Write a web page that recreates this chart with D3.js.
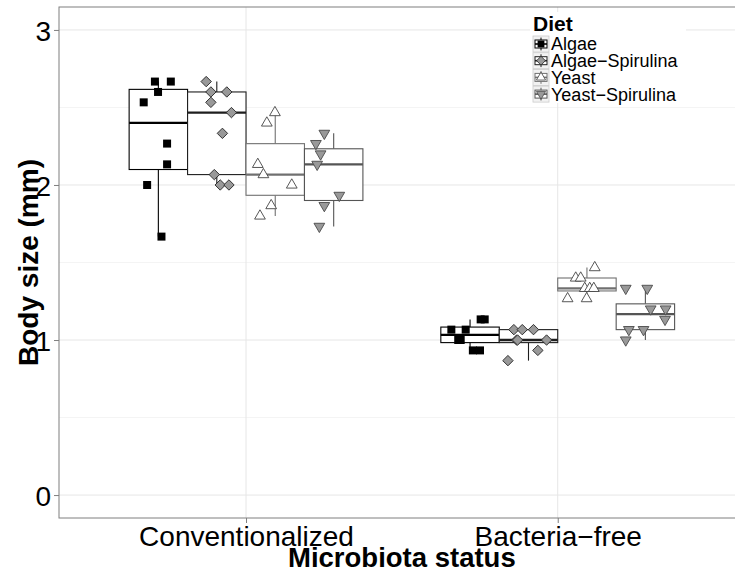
<!DOCTYPE html>
<html>
<head>
<meta charset="utf-8">
<script src="https://cdn.jsdelivr.net/npm/d3@7"></script>
<style>
  html, body { margin: 0; padding: 0; background: #ffffff; overflow: hidden; }
  svg { display: block; font-family: "Liberation Sans", Arial, Helvetica, sans-serif; }
</style>
</head>
<body>
<svg id="chart" width="735" height="573"></svg>
<script>
// Microbiota status on the x axis, diets dodged within each status
const statuses = ["Conventionalized", "Bacteria\u2212free"];
const diets = ["Algae", "Algae\u2212Spirulina", "Yeast", "Yeast\u2212Spirulina"];

// Body size measurements (mm), one array per status x diet
const convAlgae      = [2.667, 2.667, 2.600, 2.533, 2.267, 2.133, 2.000, 1.667];
const convAlgaeSpir  = [2.667, 2.600, 2.600, 2.533, 2.467, 2.333, 2.067, 2.000, 2.000];
const convYeast      = [2.467, 2.400, 2.133, 2.067, 2.000, 1.867, 1.800];
const convYeastSpir  = [2.333, 2.267, 2.200, 2.133, 1.933, 1.867, 1.733];
const freeAlgae      = [1.133, 1.133, 1.067, 1.067, 1.000, 1.000, 0.933, 0.933];
const freeAlgaeSpir  = [1.067, 1.067, 1.067, 1.000, 1.000, 1.000, 0.933, 0.867];
const freeYeast      = [1.467, 1.400, 1.400, 1.333, 1.333, 1.333, 1.267, 1.267];
const freeYeastSpir  = [1.333, 1.333, 1.200, 1.200, 1.133, 1.067, 1.067, 1.000];

// Horizontal jitter of each measurement (x-axis units, relative to its box)
const convAlgaeJit     = [-0.011, 0.040, -0.001, -0.047, 0.028, 0.028, -0.036, 0.010];
const convAlgaeSpirJit = [-0.034, -0.019, 0.032, -0.019, 0.047, 0.018, -0.008, 0.011, 0.039];
const convYeastJit     = [-0.001, -0.027, -0.056, -0.038, 0.053, -0.013, -0.049];
const convYeastSpirJit = [-0.030, -0.057, -0.042, -0.053, 0.018, -0.030, -0.046];
const freeAlgaeJit     = [0.034, 0.047, -0.060, -0.014, -0.038, -0.030, 0.009, 0.032];
const freeAlgaeSpirJit = [-0.047, -0.020, 0.016, -0.038, 0.058, -0.035, 0.030, -0.066];
const freeYeastJit     = [0.025, -0.036, -0.020, -0.007, 0.009, 0.022, -0.062, -0.001];
const freeYeastSpirJit = [-0.063, 0.006, 0.017, 0.065, 0.063, -0.053, -0.006, -0.063];

const yTicks = [0, 1, 2, 3];
const yMinor = [0.5, 1.5, 2.5];

const groups = [
  { status: 0, diet: 0, values: convAlgae,     jitter: convAlgaeJit },
  { status: 0, diet: 1, values: convAlgaeSpir, jitter: convAlgaeSpirJit },
  { status: 0, diet: 2, values: convYeast,     jitter: convYeastJit },
  { status: 0, diet: 3, values: convYeastSpir, jitter: convYeastSpirJit },
  { status: 1, diet: 0, values: freeAlgae,     jitter: freeAlgaeJit },
  { status: 1, diet: 1, values: freeAlgaeSpir, jitter: freeAlgaeSpirJit },
  { status: 1, diet: 2, values: freeYeast,     jitter: freeYeastJit },
  { status: 1, diet: 3, values: freeYeastSpir, jitter: freeYeastSpirJit }
];

// Styling per diet
const boxColour   = ["#000000", "#1e1e1e", "#707070", "#555555"];
const pointFill   = ["#000000", "#999999", "#ffffff", "#999999"];
const pointStroke = ["#000000", "#222222", "#444444", "#4a4a4a"];

const svg = d3.select("#chart");
const panel = { left: 59, top: 7, bottom: 518 };

// Discrete positions 1 and 2, expanded by 0.6 on each side
const x = d3.scaleLinear().domain([0.4, 2.6]).range([panel.left, panel.left + 2.2 * 311.7]);
const y = d3.scaleLinear().domain([-0.148, 3.148]).range([panel.bottom, panel.top]);
const panelRight = x(2.6);

const dodgeWidth = 0.75;
const boxW = dodgeWidth / diets.length;
const boxCenter = (s, d) => (s + 1) - dodgeWidth / 2 + boxW * (d + 0.5);

// Panel background and grid
svg.append("rect").attr("x", panel.left).attr("y", panel.top)
  .attr("width", panelRight - panel.left).attr("height", panel.bottom - panel.top)
  .attr("fill", "#ffffff");

const grid = svg.append("g");
grid.selectAll("line.minor").data(yMinor).join("line")
  .attr("x1", panel.left).attr("x2", panelRight)
  .attr("y1", d => y(d)).attr("y2", d => y(d))
  .attr("stroke", "#f4f4f4").attr("stroke-width", 1);
grid.selectAll("line.majory").data(yTicks).join("line")
  .attr("x1", panel.left).attr("x2", panelRight)
  .attr("y1", d => y(d)).attr("y2", d => y(d))
  .attr("stroke", "#e6e6e6").attr("stroke-width", 1);
grid.selectAll("line.majorx").data(statuses).join("line")
  .attr("x1", (d, i) => x(i + 1)).attr("x2", (d, i) => x(i + 1))
  .attr("y1", panel.top).attr("y2", panel.bottom)
  .attr("stroke", "#e6e6e6").attr("stroke-width", 1);

// Box statistics (Tukey whiskers)
function boxStats(vals) {
  const s = vals.slice().sort(d3.ascending);
  const q1 = d3.quantile(s, 0.25), med = d3.quantile(s, 0.5), q3 = d3.quantile(s, 0.75);
  const iqr = q3 - q1;
  const lo = d3.min(s.filter(v => v >= q1 - 1.5 * iqr));
  const hi = d3.max(s.filter(v => v <= q3 + 1.5 * iqr));
  return { q1, med, q3, lo, hi };
}

const boxes = svg.append("g");
groups.forEach(g => {
  const st = boxStats(g.values);
  const c = boxCenter(g.status, g.diet);
  const col = boxColour[g.diet];
  const bg = boxes.append("g");
  bg.append("line").attr("x1", x(c)).attr("x2", x(c))
    .attr("y1", y(st.q3)).attr("y2", y(st.hi)).attr("stroke", col).attr("stroke-width", 1.1);
  bg.append("line").attr("x1", x(c)).attr("x2", x(c))
    .attr("y1", y(st.q1)).attr("y2", y(st.lo)).attr("stroke", col).attr("stroke-width", 1.1);
  bg.append("rect")
    .attr("x", x(c - boxW / 2)).attr("width", x(c + boxW / 2) - x(c - boxW / 2))
    .attr("y", y(st.q3)).attr("height", y(st.q1) - y(st.q3))
    .attr("fill", "#ffffff").attr("stroke", col).attr("stroke-width", 1.1);
  bg.append("line")
    .attr("x1", x(c - boxW / 2)).attr("x2", x(c + boxW / 2))
    .attr("y1", y(st.med)).attr("y2", y(st.med))
    .attr("stroke", col).attr("stroke-width", 2.3);
});

// Point glyphs per diet: filled square, diamond, triangle, inverted triangle
function glyph(d, scale) {
  const k = scale || 1;
  if (d === 0) { const h = 4 * k; return `M${-h},${-h}H${h}V${h}H${-h}Z`; }
  if (d === 1) { const h = 5.2 * k; return `M0,${-h}L${h},0L0,${h}L${-h},0Z`; }
  const r = 6.2 * k, w = r * Math.sqrt(3) / 2;
  if (d === 2) return `M0,${-r}L${w},${r / 2}L${-w},${r / 2}Z`;
  return `M0,${r}L${w},${-r / 2}L${-w},${-r / 2}Z`;
}

const pts = svg.append("g");
groups.forEach(g => {
  const c = boxCenter(g.status, g.diet);
  pts.selectAll(null).data(g.values.map((v, i) => ({ v, j: g.jitter[i] }))).join("path")
    .attr("d", glyph(g.diet))
    .attr("transform", p => `translate(${x(c + p.j)},${y(p.v)})`)
    .attr("fill", pointFill[g.diet])
    .attr("stroke", pointStroke[g.diet])
    .attr("stroke-width", g.diet === 0 ? 0 : 0.9);
});

// Panel border
svg.append("rect").attr("x", panel.left).attr("y", panel.top)
  .attr("width", panelRight - panel.left).attr("height", panel.bottom - panel.top)
  .attr("fill", "none").attr("stroke", "#7f7f7f").attr("stroke-width", 1);

// Axes
const yAxis = d3.axisLeft(y).tickValues(yTicks).tickFormat(d3.format("d")).tickSize(5).tickPadding(3);
const gy = svg.append("g").attr("transform", `translate(${panel.left},0)`).call(yAxis);
gy.select(".domain").remove();
gy.selectAll(".tick line").attr("stroke", "#7f7f7f");
gy.selectAll(".tick text").attr("font-size", 28).attr("fill", "#000").attr("dy", "0.36em")
  .attr("font-family", "Liberation Sans, Arial, sans-serif");

const xAxis = d3.axisBottom(x).tickValues([1, 2]).tickFormat((d) => statuses[d - 1]).tickSize(5).tickPadding(2);
const gx = svg.append("g").attr("transform", `translate(0,${panel.bottom})`).call(xAxis);
gx.select(".domain").remove();
gx.selectAll(".tick line").attr("stroke", "#7f7f7f");
gx.selectAll(".tick text").attr("font-size", 28).attr("fill", "#000").attr("dy", null)
  .attr("y", 28).attr("font-family", "Liberation Sans, Arial, sans-serif");

// Axis titles
svg.append("text").attr("x", x(1.5)).attr("y", 567).attr("text-anchor", "middle")
  .attr("font-size", 27.5).attr("font-weight", "bold").text("Microbiota status");
svg.append("text").attr("transform", `translate(38,${(panel.top + panel.bottom) / 2}) rotate(-90)`)
  .attr("text-anchor", "middle").attr("font-size", 28).attr("font-weight", "bold")
  .text("Body size (mm)");

// Legend inside the panel, top right
const legend = svg.append("g");
legend.append("rect").attr("x", 530).attr("y", 12).attr("width", 156).attr("height", 91).attr("fill", "#ffffff");
legend.append("text").attr("x", 533).attr("y", 31).attr("font-size", 21).attr("font-weight", "bold").text("Diet");
const rowY = d3.scaleLinear().domain([0, 1]).range([44, 60.7]);
diets.forEach((name, i) => {
  const cy = rowY(i), kx = 533, ks = 16;
  const key = legend.append("g").attr("transform", `translate(${kx},${cy - ks / 2})`);
  key.append("rect").attr("width", ks).attr("height", ks).attr("fill", "#f2f2f2").attr("stroke", "#cccccc").attr("stroke-width", 0.8);
  key.append("line").attr("x1", ks / 2).attr("x2", ks / 2).attr("y1", ks * 0.1).attr("y2", ks * 0.9)
    .attr("stroke", boxColour[i]).attr("stroke-width", 1);
  key.append("rect").attr("x", ks * 0.125).attr("y", ks * 0.25).attr("width", ks * 0.75).attr("height", ks * 0.5)
    .attr("fill", "#ffffff").attr("stroke", boxColour[i]).attr("stroke-width", 1);
  key.append("line").attr("x1", ks * 0.125).attr("x2", ks * 0.875).attr("y1", ks / 2).attr("y2", ks / 2)
    .attr("stroke", boxColour[i]).attr("stroke-width", 1.6);
  key.append("path").attr("d", glyph(i, 0.85)).attr("transform", `translate(${ks / 2},${ks / 2})`)
    .attr("fill", pointFill[i]).attr("stroke", pointStroke[i]).attr("stroke-width", i === 0 ? 0 : 0.8);
  legend.append("text").attr("x", 551).attr("y", cy).attr("dy", "0.36em").attr("font-size", 18).text(name);
});
</script>
</body>
</html>
